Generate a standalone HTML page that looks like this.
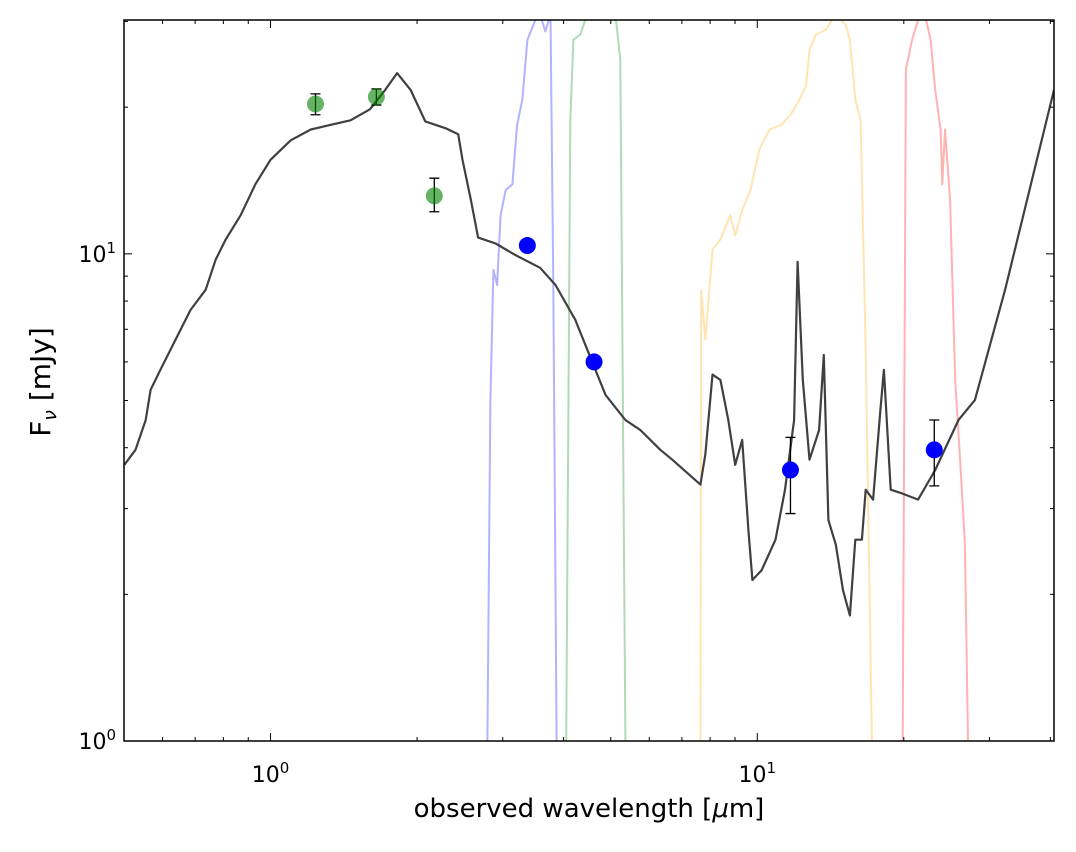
<!DOCTYPE html>
<html><head><meta charset="utf-8"><style>
body{margin:0;background:#fff;width:1076px;height:847px;overflow:hidden}
svg text{font-family:"DejaVu Sans","Liberation Sans",sans-serif;fill:#000}
</style></head><body>
<svg id="chart" width="1076" height="847"></svg>
<script>
const sedWave=[0.501,0.528,0.554,0.567,0.594,0.638,0.685,0.736,0.771,0.809,0.868,0.931,1.0,1.10,1.21,1.33,1.46,1.60,1.72,1.82,1.94,2.08,2.29,2.43,2.48,2.58,2.67,2.90,3.18,3.58,3.85,4.23,4.65,4.88,5.36,5.75,6.32,6.69,7.64,7.82,8.09,8.40,8.72,9.01,9.31,9.59,9.77,10.2,10.9,11.4,11.9,12.1,12.4,12.8,13.4,13.7,14.0,14.5,15.0,15.5,15.9,16.4,16.7,17.3,17.9,18.2,18.8,19.7,21.4,23.2,25.9,28.0,32.3,40.7];
const sedFlux=[3.69,3.96,4.56,5.26,5.78,6.66,7.67,8.44,9.72,10.7,12.0,13.9,15.6,17.1,18.0,18.4,18.8,19.8,21.7,23.5,21.7,18.7,18.1,17.6,15.6,12.9,10.8,10.5,9.95,9.36,8.63,7.31,5.78,5.13,4.56,4.35,3.96,3.78,3.36,3.87,5.65,5.51,4.56,3.69,4.15,2.71,2.14,2.24,2.59,3.28,4.56,9.63,5.51,3.78,4.35,6.20,2.84,2.53,2.04,1.81,2.59,2.59,3.28,3.13,4.78,5.78,3.28,3.23,3.13,3.60,4.56,5.01,8.44,21.7];
const blueWave=[2.79,2.83,2.87,2.92,2.97,3.04,3.14,3.21,3.29,3.37,3.50,3.58,3.67,3.76,3.81,3.87];
const blueT=[1.0,5.01,9.27,8.63,12.0,13.5,13.9,18.4,20.7,27.5,30.2,31.0,28.6,31.0,8.63,1.0];
const greenWave=[4.05,4.13,4.19,4.33,4.43,4.65,4.88,5.11,5.23,5.36];
const greenT=[1.0,18.8,27.5,28.2,30.2,31.0,30.2,31.0,25.0,1.0];
const orangeWave=[7.64,7.67,7.82,8.09,8.40,8.80,9.01,9.31,9.68,10.1,10.6,11.2,11.7,12.2,12.6,12.8,13.2,13.8,14.5,15.2,15.5,15.9,16.3,16.7,17.2];
const orangeT=[1.0,8.44,6.66,10.2,10.7,12.0,10.9,12.3,13.5,16.4,18.0,18.4,19.3,20.7,22.2,26.2,28.2,28.8,31.0,29.5,27.5,20.7,18.8,6.35,1.0];
const redWave=[19.9,20.2,20.8,21.4,22.1,22.7,23.2,23.8,24.0,24.3,24.9,25.5,26.1,26.7,27.1];
const redT=[1.0,23.9,27.5,30.2,31.0,27.5,21.7,18.0,13.9,18.0,12.9,5.51,3.78,2.53,1.0];
const nirWave=[1.237,1.65,2.17];
const nirFlux=[20.3,21.0,13.15];
const nirLo=[19.3,20.2,12.2];
const nirHi=[21.3,21.8,14.3];
const irWave=[3.37,4.62,11.7,23.1];
const irFlux=[10.4,6.0,3.6,3.96];
const irLo=[10.4,6.0,2.93,3.34];
const irHi=[10.4,6.0,4.2,4.56];

const L=124,R=1054,T=20,B=741,xmin=0.5,xmax=40.7,ymin=1,ymax=30.2;
const X=v=>L+(Math.log10(v)-Math.log10(xmin))/(Math.log10(xmax)-Math.log10(xmin))*(R-L);
const Y=v=>B-(Math.log10(v)-Math.log10(ymin))/(Math.log10(ymax)-Math.log10(ymin))*(B-T);
const svg=document.getElementById('chart');
const NS='http://www.w3.org/2000/svg';
function mk(tag,attrs,parent){const e=document.createElementNS(NS,tag);for(const k in attrs)e.setAttribute(k,attrs[k]);(parent||svg).appendChild(e);return e;}
const defs=mk('defs',{});
const cp=mk('clipPath',{id:'clip'},defs);mk('rect',{x:L,y:T,width:R-L,height:B-T},cp);
const g=mk('g',{'clip-path':'url(#clip)'});
function line(xs,ys,color,w,op,name){
  const p=mk('polyline',{points:xs.map((x,i)=>X(x).toFixed(1)+','+Y(ys[i]).toFixed(1)).join(' '),fill:'none',stroke:color,'stroke-width':w,'stroke-opacity':op,'stroke-linejoin':'round'},g);
  
  
}
line(blueWave,blueT,'#0000ff',2,0.3,'filter-curve-irac1');
line(greenWave,greenT,'#008000',2,0.3,'filter-curve-irac2');
line(orangeWave,orangeT,'#ffa500',2,0.3,'filter-curve-12um');
line(redWave,redT,'#ff0000',2,0.3,'filter-curve-22um');
line(sedWave,sedFlux,'#404040',2.2,1,'sed-model-line');
function pts(xs,ys,lo,hi,color,op,name){
  xs.forEach((x,i)=>{
    if(hi[i]>lo[i]){
      const e=mk('path',{d:`M${X(x)},${Y(lo[i])}V${Y(hi[i])}M${X(x)-5},${Y(lo[i])}h10M${X(x)-5},${Y(hi[i])}h10`,stroke:'#000','stroke-width':1.3,fill:'none'},g);
      
      
    }
    const c=mk('circle',{cx:X(x),cy:Y(ys[i]),r:8.5,fill:color,'fill-opacity':op},g);
    
    
  });
}
pts(nirWave,nirFlux,nirLo,nirHi,'#008000',0.6,'nir');
pts(irWave,irFlux,irLo,irHi,'#0000ff',1,'mir');
// frame
const fr=mk('rect',{x:L,y:T,width:R-L,height:B-T,fill:'none',stroke:'#000','stroke-width':1.5});


// ticks
const tk=mk('g',{stroke:'#000','stroke-width':1});
for(let d=-1;d<=1;d++)for(let m=1;m<10;m++){
  const v=m*Math.pow(10,d); if(v<xmin||v>xmax)continue;
  const len=m===1?8:4,x=X(v);
  mk('line',{x1:x,y1:B,x2:x,y2:B-len},tk);mk('line',{x1:x,y1:T,x2:x,y2:T+len},tk);
}
for(let d=0;d<=1;d++)for(let m=1;m<10;m++){
  const v=m*Math.pow(10,d); if(v<ymin||v>ymax)continue;
  const len=m===1?8:4,y=Y(v);
  mk('line',{x1:L,y1:y,x2:L+len,y2:y},tk);mk('line',{x1:R,y1:y,x2:R-len,y2:y},tk);
}
function lbl(x,y,exp,anchor,name){
  const t=mk('text',{x:x,y:y,'font-size':22,'text-anchor':anchor});
  t.innerHTML='10<tspan font-size="15" dy="-9">'+exp+'</tspan>';
  
  
}
lbl(X(1),782,'0','middle','x-tick-1');lbl(X(10),782,'1','middle','x-tick-10');
lbl(116,749,'0','end','y-tick-1');lbl(116,262,'1','end','y-tick-10');
const xt=mk('text',{x:589,y:817,'font-size':26,'text-anchor':'middle'});
xt.innerHTML='observed wavelength [<tspan font-style="italic">μ</tspan>m]';


const yt=mk('text',{x:50,y:382,'font-size':28,'text-anchor':'middle',transform:'rotate(-90 50 382)'});
yt.innerHTML='F<tspan font-size="19" dy="6" font-style="italic">ν</tspan><tspan dy="-6"> [mJy]</tspan>';


</script>
</body></html>
